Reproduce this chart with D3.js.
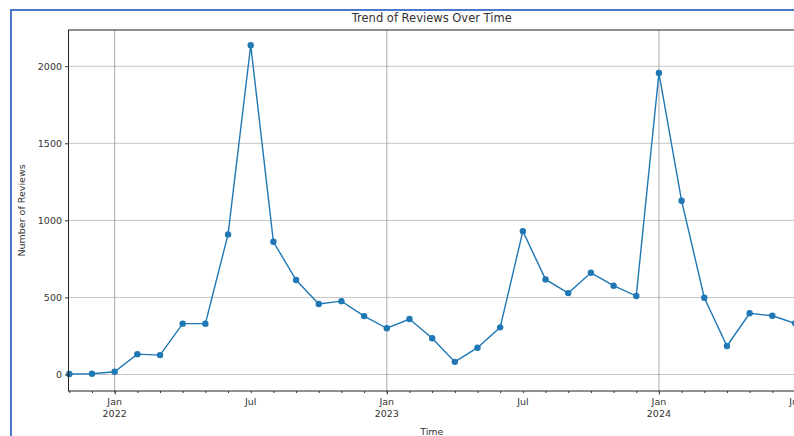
<!DOCTYPE html>
<html><head><meta charset="utf-8">
<script src="https://cdn.jsdelivr.net/npm/d3@7"></script>
<style>body{margin:0;background:#fff}svg{display:block}text{font-family:"DejaVu Sans",sans-serif}</style>
</head><body>
<svg id="c" width="794" height="436"></svg>
<script>
const months = ["2021-11","2021-12","2022-01","2022-02","2022-03","2022-04","2022-05","2022-06","2022-07","2022-08","2022-09","2022-10","2022-11","2022-12","2023-01","2023-02","2023-03","2023-04","2023-05","2023-06","2023-07","2023-08","2023-09","2023-10","2023-11","2023-12","2024-01","2024-02","2024-03","2024-04","2024-05","2024-06","2024-07"];
const reviews = [3,5,18,132,126,330,330,909,2136,861,613,457,476,379,300,360,235,82,174,306,930,617,528,660,576,509,1956,1127,498,185,397,381,332];
const yTicks = [0,500,1000,1500,2000];
const title = "Trend of Reviews Over Time";
const xLabel = "Time";
const yLabel = "Number of Reviews";
const monthNames = ["Jan","Feb","Mar","Apr","May","Jun","Jul","Aug","Sep","Oct","Nov","Dec"];

const svg = d3.select("#c");
const L = 68.5, R = 795, T = 30, B = 391;
const x = d3.scaleLinear().domain([0, months.length - 1]).range([L + 0.8, R]);
const y = d3.scaleLinear().domain([-107, 2235]).range([B, T]);

// frame of screenshot
svg.append("line").attr("x1",11).attr("x2",11).attr("y1",10).attr("y2",436).attr("stroke","#4a78cc").attr("stroke-width",2);
svg.append("line").attr("x1",10).attr("x2",794).attr("y1",10).attr("y2",10).attr("stroke","#4a78cc").attr("stroke-width",2);

const idx = months.map((m,i)=>i);
const majors = idx.filter(i => months[i].endsWith("-01"));
const julys = idx.filter(i => months[i].endsWith("-07"));

// grid
const g = svg.append("g");
g.selectAll(".hg").data(yTicks).join("line")
  .attr("x1",L).attr("x2",R).attr("y1",d=>y(d)).attr("y2",d=>y(d))
  .attr("stroke","#c4c4c4").attr("stroke-width",1);
g.selectAll(".vg").data(majors).join("line")
  .attr("x1",d=>x(d)).attr("x2",d=>x(d)).attr("y1",T).attr("y2",B)
  .attr("stroke","#a8a8a8").attr("stroke-width",1);

// line + markers
const line = d3.line().x((d,i)=>x(i)).y(d=>y(d));
svg.append("path").datum(reviews).attr("d",line).attr("fill","none").attr("stroke","#1f77b4").attr("stroke-width",1.4);
svg.selectAll(".pt").data(reviews).join("circle")
  .attr("cx",(d,i)=>x(i)).attr("cy",d=>y(d)).attr("r",3.2).attr("fill","#1f77b4");

// axes spines
svg.append("rect").attr("x",L).attr("y",T).attr("width",R-L).attr("height",B-T).attr("fill","none").attr("stroke","#222").attr("stroke-width",1);

// y axis
const ya = d3.axisLeft(y).tickValues(yTicks).tickSize(3.5).tickPadding(3).tickFormat(d3.format("d"));
const yg = svg.append("g").attr("transform",`translate(${L},0)`).call(ya);
yg.select(".domain").remove();
yg.selectAll("text").attr("font-size",9.5).attr("fill","#333");
yg.selectAll("line").attr("stroke","#333");

// x axis minor ticks (every month)
const xa = d3.axisBottom(x).tickValues(idx).tickSize(2).tickFormat("");
const xg = svg.append("g").attr("transform",`translate(0,${B})`).call(xa);
xg.select(".domain").remove();
xg.selectAll("line").attr("stroke","#333");
const xm = d3.axisBottom(x).tickValues(majors).tickSize(3.5).tickFormat("");
const xmg = svg.append("g").attr("transform",`translate(0,${B})`).call(xm);
xmg.select(".domain").remove();
xmg.selectAll("line").attr("stroke","#333");

// x tick labels
const lab = svg.append("g").attr("font-size",9.5).attr("fill","#333").attr("text-anchor","middle");
idx.filter(i => majors.includes(i) || julys.includes(i)).forEach(i => {
  const [yr, mo] = months[i].split("-");
  const t = lab.append("text").attr("x",x(i)).attr("y",B+14);
  t.append("tspan").attr("x",x(i)).text(monthNames[+mo-1]);
  if (majors.includes(i)) t.append("tspan").attr("x",x(i)).attr("dy",12).text(yr);
});

// titles
svg.append("text").attr("x",(L+R)/2).attr("y",22).attr("text-anchor","middle").attr("font-size",11.5).attr("fill","#333").text(title);
svg.append("text").attr("x",(L+R)/2).attr("y",435).attr("text-anchor","middle").attr("font-size",9.5).attr("fill","#333").text(xLabel);
svg.append("text").attr("transform",`translate(25,${(T+B)/2}) rotate(-90)`).attr("text-anchor","middle").attr("font-size",9.5).attr("fill","#333").text(yLabel);
</script>
</body></html>
